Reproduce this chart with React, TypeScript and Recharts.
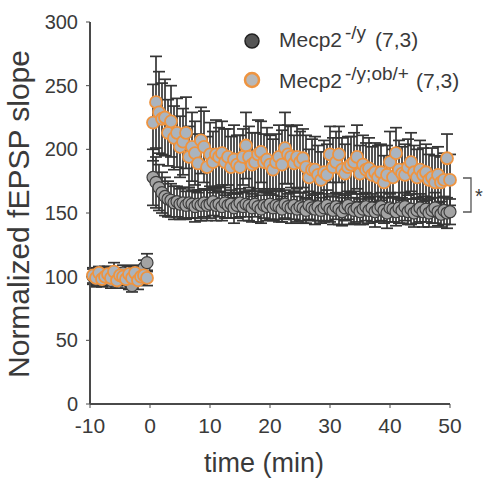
import React from 'react';
import { ScatterChart, Scatter, XAxis, YAxis, ErrorBar } from 'recharts';

// time points (min)
const baseTime = [-9.5, -9, -8.5, -8, -7.5, -7, -6.5, -6, -5.5, -5, -4.5, -4, -3.5, -3, -2.5, -2, -1.5, -1, -0.5];
const postTime = [
  0.5, 1, 1.5, 2, 2.5, 3, 3.5, 4, 4.5, 5,
  5.5, 6, 6.5, 7, 7.5, 8, 8.5, 9, 9.5, 10,
  10.5, 11, 11.5, 12, 12.5, 13, 13.5, 14, 14.5, 15,
  15.5, 16, 16.5, 17, 17.5, 18, 18.5, 19, 19.5, 20,
  20.5, 21, 21.5, 22, 22.5, 23, 23.5, 24, 24.5, 25,
  25.5, 26, 26.5, 27, 27.5, 28, 28.5, 29, 29.5, 30,
  30.5, 31, 31.5, 32, 32.5, 33, 33.5, 34, 34.5, 35,
  35.5, 36, 36.5, 37, 37.5, 38, 38.5, 39, 39.5, 40,
  40.5, 41, 41.5, 42, 42.5, 43, 43.5, 44, 44.5, 45,
  45.5, 46, 46.5, 47, 47.5, 48, 48.5, 49, 49.5, 50,
];

// Mecp2 -/y
const grayBase = [100, 98, 101, 99, 102, 100, 97, 101, 99, 100, 103, 98, 96, 93, 101, 99, 102, 107, 111];
const grayBaseErr = [6, 5, 6, 5, 6, 5, 6, 5, 6, 5, 6, 5, 6, 5, 6, 5, 6, 6, 7];
const grayPost = [
  178, 174, 170, 166, 163, 161, 160, 158, 159, 157,
  158, 156, 158, 157, 155, 157, 156, 158, 156, 157,
  159, 156, 157, 155, 158, 156, 157, 154, 156, 158,
  155, 157, 156, 154, 157, 155, 153, 156, 155, 157,
  154, 156, 155, 153, 157, 155, 154, 156, 153, 155,
  154, 152, 156, 154, 153, 155, 152, 154, 156, 153,
  152, 155, 153, 151, 154, 156, 153, 152, 154, 151,
  153, 155, 152, 154, 151, 153, 155, 152, 150, 154,
  153, 151, 154, 152, 155, 151, 153, 150, 152, 154,
  151, 153, 150, 152, 154, 151, 149, 152, 150, 151,
];
const grayPostErr = [
  22, 20, 18, 16, 15, 14, 13, 13, 12, 12,
  12, 11, 12, 11, 12, 11, 12, 11, 12, 11,
  11, 12, 10, 11, 12, 10, 11, 12, 10, 11,
  11, 10, 12, 11, 10, 12, 11, 10, 11, 12,
  10, 11, 12, 10, 11, 10, 12, 11, 10, 11,
  12, 10, 11, 10, 12, 11, 10, 11, 12, 10,
  11, 10, 12, 11, 10, 11, 12, 10, 11, 10,
  12, 11, 10, 11, 12, 10, 11, 10, 12, 11,
  10, 11, 12, 10, 11, 10, 12, 11, 10, 11,
  12, 10, 11, 10, 12, 11, 10, 11, 12, 10,
];

// Mecp2 -/y;ob/+
const orangeBase = [101, 99, 103, 98, 100, 102, 99, 104, 97, 101, 100, 98, 102, 99, 103, 97, 100, 101, 99];
const orangeBaseErr = [6, 7, 5, 6, 7, 6, 5, 7, 6, 6, 5, 7, 6, 5, 6, 7, 6, 5, 6];
const orangePost = [
  221, 237, 229, 224, 225, 213, 222, 209, 213, 202,
  206, 213, 194, 202, 197, 189, 207, 202, 186, 196,
  190, 196, 194, 197, 190, 194, 186, 192, 188, 186,
  194, 203, 194, 188, 190, 196, 198, 190, 192, 188,
  184, 190, 194, 188, 201, 196, 194, 189, 194, 190,
  193, 186, 178, 184, 184, 180, 176, 182, 180, 196,
  186, 190, 196, 184, 181, 186, 188, 190, 194, 181,
  188, 184, 185, 180, 182, 178, 182, 174, 180, 190,
  178, 197, 184, 181, 180, 186, 190, 182, 178, 184,
  180, 182, 176, 178, 174, 180, 174, 176, 193, 176,
];
const orangePostErr = [
  30, 36, 32, 28, 30, 26, 28, 25, 27, 24,
  26, 28, 24, 27, 25, 23, 26, 28, 24, 25,
  24, 27, 23, 25, 26, 22, 24, 27, 23, 25,
  22, 26, 24, 25, 23, 27, 24, 22, 25, 23,
  24, 22, 25, 27, 28, 23, 24, 22, 25, 24,
  23, 25, 22, 24, 26, 23, 22, 25, 24, 22,
  23, 24, 22, 25, 23, 24, 22, 23, 25, 22,
  23, 21, 24, 22, 23, 25, 22, 21, 23, 24,
  22, 20, 23, 21, 24, 22, 23, 21, 22, 23,
  21, 22, 20, 23, 21, 22, 20, 21, 19, 20,
];

const xTicks = [-10, 0, 10, 20, 30, 40, 50];
const yTicks = [0, 50, 100, 150, 200, 250, 300];

const times = [...baseTime, ...postTime];
const grayVals = [...grayBase, ...grayPost];
const grayErrs = [...grayBaseErr, ...grayPostErr];
const orangeVals = [...orangeBase, ...orangePost];
const orangeErrs = [...orangeBaseErr, ...orangePostErr];
const grayData = times.map((t, i) => ({ t, v: grayVals[i], e: grayErrs[i] }));
const orangeData = times.map((t, i) => ({ t, v: orangeVals[i], e: orangeErrs[i] }));

const FONT = '"Liberation Sans", Arial, sans-serif';
const TEXT = '#3a3a3a';
const AXIS = '#4a4a4a';

const GrayDot = (p: any) => (
  <circle cx={p.cx} cy={p.cy} r={6} fill="#a3a3a3" stroke="#3d3d3d" strokeWidth={1.2} />
);
const OrangeDot = (p: any) => (
  <circle cx={p.cx} cy={p.cy} r={6} fill="#aab4bf" stroke="#ee9440" strokeWidth={1.8} />
);

export default function App() {
  return (
    <div style={{ position: 'absolute', left: 0, top: 0, width: 484, height: 479, background: '#fff', fontFamily: FONT }}>
      <ScatterChart width={484} height={479} margin={{ top: 22, right: 34, bottom: 45, left: 40 }}>
        <XAxis
          type="number"
          dataKey="t"
          domain={[-10, 50]}
          ticks={xTicks}
          height={30}
          axisLine={{ stroke: AXIS, strokeWidth: 2 }}
          tickLine={{ stroke: AXIS }}
          tickSize={4}
          tickMargin={10}
          tick={{ fill: TEXT, fontSize: 21, fontFamily: FONT }}
        />
        <YAxis
          type="number"
          dataKey="v"
          domain={[0, 300]}
          ticks={yTicks}
          width={50}
          axisLine={{ stroke: AXIS, strokeWidth: 2 }}
          tickLine={{ stroke: AXIS }}
          tickSize={4}
          tickMargin={8}
          tick={{ fill: TEXT, fontSize: 20, fontFamily: FONT }}
        />
        <Scatter data={grayData} shape={GrayDot} isAnimationActive={false}>
          <ErrorBar dataKey="e" direction="y" width={6} stroke="#353535" strokeWidth={1.7} />
        </Scatter>
        <Scatter data={orangeData} shape={OrangeDot} isAnimationActive={false}>
          <ErrorBar dataKey="e" direction="y" width={6} stroke="#353535" strokeWidth={1.7} />
        </Scatter>
      </ScatterChart>

      <svg width={484} height={479} style={{ position: 'absolute', left: 0, top: 0, pointerEvents: 'none' }}>
        <text
          transform="translate(29,214) rotate(-90)"
          textAnchor="middle"
          fontSize={30}
          fill={TEXT}
          fontFamily={FONT}
        >
          Normalized fEPSP slope
        </text>
        <text x={264} y={472} textAnchor="middle" fontSize={27} fill={TEXT} fontFamily={FONT}>
          time (min)
        </text>

        {/* legend */}
        <circle cx={252} cy={41} r={7} fill="#555" stroke="#222" strokeWidth={1.5} />
        <text fill={TEXT} fontFamily={FONT}>
          <tspan x={279} y={47} fontSize={21}>Mecp2</tspan>
          <tspan x={345} y={39} fontSize={19}>-/y</tspan>
          <tspan x={375} y={47} fontSize={21}>(7,3)</tspan>
        </text>
        <circle cx={252} cy={80} r={7} fill="#b8b8b8" stroke="#ee9440" strokeWidth={2.5} />
        <text fill={TEXT} fontFamily={FONT}>
          <tspan x={279} y={88} fontSize={21}>Mecp2</tspan>
          <tspan x={345} y={80} fontSize={19}>-/y;ob/+</tspan>
          <tspan x={416} y={88} fontSize={21}>(7,3)</tspan>
        </text>

        {/* significance bracket */}
        <path d="M463,178 H471 V212 H463" fill="none" stroke="#555" strokeWidth={1.3} />
        <text x={475} y={203} fontSize={20} fill={TEXT} fontFamily={FONT}>*</text>
      </svg>
    </div>
  );
}
